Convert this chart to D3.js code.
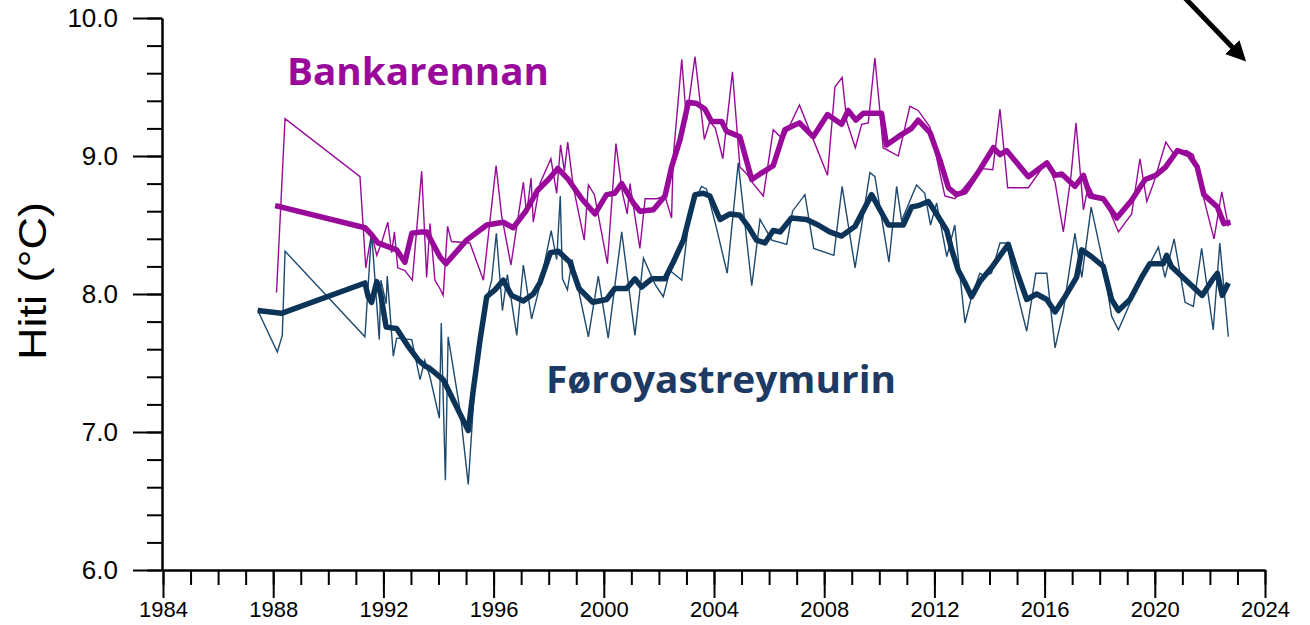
<!DOCTYPE html>
<html>
<head>
<meta charset="utf-8">
<script src="https://cdn.jsdelivr.net/npm/d3@7"></script>
<style>
  body { margin: 0; background: #fff; }
  svg { display: block; }
  .axis text { font-family: "Liberation Sans", Arial, sans-serif; fill: #000; }
  .axis path, .axis line { stroke: #000; stroke-width: 2; }
</style>
</head>
<body>
<svg id="chart" width="1310" height="625"></svg>
<script>
// quarterly values (thin) and running mean (thick), [year, degC]
var bankRaw = [[1988.12,8.01],[1988.43,9.27],[1991.15,8.85],[1991.36,8.19],[1991.57,8.44],[1991.76,8.28],[1991.93,8.37],[1992.16,8.52],[1992.3,8.30],[1992.4,8.45],[1992.52,8.19],[1992.78,8.17],[1993.05,8.10],[1993.39,8.89],[1993.57,8.12],[1993.69,8.51],[1993.87,8.10],[1994.05,8.04],[1994.17,7.99],[1994.33,8.49],[1994.47,8.38],[1995.14,8.37],[1995.63,8.10],[1996.09,8.93],[1996.29,8.57],[1996.63,8.21],[1997.08,8.81],[1997.2,8.58],[1997.36,8.84],[1997.44,8.52],[1997.68,8.80],[1998.08,8.98],[1998.29,8.73],[1998.43,9.08],[1998.57,8.89],[1998.69,9.10],[1998.89,8.78],[1999.29,8.39],[1999.44,8.79],[1999.66,8.72],[2000.13,8.22],[2000.44,9.09],[2000.68,8.73],[2000.85,8.58],[2000.95,8.80],[2001.31,8.33],[2001.5,8.69],[2001.92,8.69],[2002.22,8.71],[2002.46,8.55],[2002.52,8.99],[2002.83,9.70],[2003.0,9.26],[2003.31,9.72],[2003.65,9.12],[2003.85,9.25],[2004.05,9.20],[2004.32,8.98],[2004.67,9.61],[2004.94,8.92],[2005.19,8.87],[2005.42,8.80],[2005.79,8.71],[2006.15,9.19],[2006.51,9.12],[2007.1,9.37],[2007.36,9.24],[2008.12,8.86],[2008.39,9.50],[2008.65,9.57],[2008.82,9.25],[2009.13,9.06],[2009.36,9.23],[2009.6,9.24],[2009.84,9.71],[2010.02,9.33],[2010.14,9.06],[2010.69,9.00],[2011.11,9.36],[2011.41,9.33],[2011.84,9.21],[2012.38,8.71],[2012.74,8.69],[2013.11,8.78],[2013.65,8.91],[2014.12,8.90],[2014.38,9.34],[2014.66,8.77],[2015.41,8.77],[2016.08,8.96],[2016.38,8.81],[2016.68,8.45],[2016.96,8.86],[2017.14,9.24],[2017.41,8.61],[2017.59,8.79],[2017.77,8.72],[2018.17,8.69],[2018.68,8.45],[2019.16,8.58],[2019.46,8.98],[2019.71,8.67],[2019.95,8.80],[2020.4,9.10],[2020.67,9.02],[2021.15,9.04],[2021.4,9.01],[2021.88,8.61],[2022.15,8.40],[2022.43,8.74],[2022.67,8.49]];

var bankMean = [[1988.07,8.64],[1988.3,8.63],[1991.33,8.48],[1991.57,8.43],[1991.8,8.37],[1992.48,8.32],[1992.78,8.23],[1993.03,8.44],[1993.39,8.45],[1993.57,8.45],[1994.05,8.27],[1994.27,8.22],[1995.02,8.39],[1995.75,8.50],[1996.35,8.52],[1996.71,8.48],[1997.17,8.60],[1997.59,8.75],[1997.99,8.83],[1998.33,8.91],[1998.71,8.83],[1999.2,8.69],[1999.68,8.58],[2000.1,8.72],[2000.4,8.73],[2000.65,8.80],[2001.07,8.66],[2001.31,8.60],[2001.8,8.61],[2002.22,8.71],[2002.46,8.92],[2002.77,9.12],[2003.07,9.39],[2003.37,9.38],[2003.67,9.34],[2003.91,9.25],[2004.28,9.25],[2004.45,9.18],[2004.94,9.14],[2005.37,8.83],[2005.67,8.87],[2006.15,8.93],[2006.57,9.19],[2007.1,9.24],[2007.6,9.14],[2008.12,9.30],[2008.63,9.23],[2008.87,9.33],[2009.15,9.26],[2009.42,9.31],[2010.08,9.31],[2010.26,9.08],[2010.69,9.14],[2011.17,9.20],[2011.41,9.26],[2011.84,9.17],[2012.2,8.97],[2012.51,8.77],[2012.8,8.72],[2013.11,8.74],[2013.65,8.90],[2014.14,9.06],[2014.38,9.01],[2014.62,9.04],[2015.41,8.85],[2016.08,8.95],[2016.38,8.86],[2016.62,8.87],[2017.1,8.78],[2017.41,8.86],[2017.65,8.71],[2018.13,8.69],[2018.62,8.55],[2019.16,8.68],[2019.65,8.83],[2020.03,8.86],[2020.39,8.92],[2020.82,9.04],[2021.24,9.01],[2021.54,8.92],[2021.78,8.72],[2022.27,8.63],[2022.51,8.51],[2022.75,8.52]];

var faroeRaw = [[1987.44,7.88],[1988.15,7.58],[1988.33,7.70],[1988.43,8.31],[1991.33,7.69],[1991.57,8.45],[1991.85,7.67],[1991.91,8.10],[1992.1,7.93],[1992.14,8.13],[1992.36,7.55],[1992.48,7.68],[1993.03,7.67],[1993.33,7.38],[1993.5,7.52],[1993.69,7.40],[1994.03,7.10],[1994.1,7.79],[1994.25,6.65],[1994.35,7.69],[1994.78,7.16],[1995.08,6.62],[1995.38,7.55],[1995.69,7.91],[1995.93,8.10],[1996.1,8.44],[1996.32,7.88],[1996.5,8.14],[1996.84,7.70],[1997.08,8.21],[1997.38,7.82],[1997.68,8.06],[1998.09,8.46],[1998.29,8.25],[1998.42,8.71],[1998.5,8.11],[1998.68,8.03],[1998.85,8.25],[1999.44,7.69],[1999.8,8.13],[2000.16,7.68],[2000.65,8.45],[2001.13,7.70],[2001.44,8.26],[2001.86,8.07],[2002.16,7.98],[2002.4,8.17],[2002.83,8.10],[2003.13,8.61],[2003.55,8.78],[2003.73,8.76],[2004.1,8.47],[2004.48,8.15],[2004.88,8.95],[2005.37,8.06],[2005.67,8.54],[2006.1,8.39],[2006.64,8.36],[2006.85,8.60],[2007.3,8.72],[2007.62,8.33],[2008.35,8.28],[2008.65,8.78],[2009.12,8.19],[2009.66,8.88],[2009.84,8.85],[2010.35,8.23],[2010.63,8.78],[2010.81,8.53],[2011.35,8.79],[2011.65,8.73],[2011.86,8.50],[2012.08,8.66],[2012.45,8.27],[2012.74,8.50],[2013.11,7.79],[2013.35,7.98],[2013.65,8.15],[2013.83,8.13],[2014.07,8.15],[2014.38,8.37],[2014.62,8.37],[2014.98,8.03],[2015.35,7.73],[2015.68,8.15],[2016.08,8.15],[2016.38,7.61],[2016.68,7.88],[2017.1,8.44],[2017.35,8.12],[2017.69,8.63],[2018.13,8.22],[2018.43,7.84],[2018.68,7.74],[2019.16,7.96],[2019.52,8.12],[2019.77,8.20],[2020.13,8.34],[2020.37,8.12],[2020.7,8.40],[2021.1,7.94],[2021.4,7.91],[2021.7,8.33],[2022.12,7.74],[2022.36,8.37],[2022.67,7.69]];

var faroeMean = [[1987.44,7.88],[1988.3,7.86],[1991.33,8.08],[1991.45,7.98],[1991.57,7.94],[1991.76,8.09],[1991.9,8.00],[1992.1,7.76],[1992.48,7.75],[1992.9,7.62],[1993.27,7.52],[1993.5,7.48],[1993.69,7.46],[1994.17,7.38],[1994.54,7.23],[1995.08,7.01],[1995.26,7.30],[1995.51,7.67],[1995.75,7.98],[1996.05,8.03],[1996.35,8.10],[1996.65,7.99],[1997.08,7.95],[1997.44,8.00],[1997.68,8.08],[1998.06,8.30],[1998.35,8.31],[1998.77,8.23],[1999.1,8.04],[1999.6,7.94],[2000.1,7.96],[2000.4,8.04],[2000.83,8.04],[2001.13,8.11],[2001.37,8.05],[2001.74,8.11],[2002.22,8.11],[2002.52,8.23],[2002.89,8.39],[2003.31,8.72],[2003.61,8.73],[2003.85,8.71],[2004.22,8.54],[2004.58,8.58],[2004.94,8.57],[2005.24,8.49],[2005.54,8.39],[2005.85,8.37],[2006.15,8.46],[2006.4,8.45],[2006.81,8.55],[2007.36,8.54],[2007.78,8.50],[2008.2,8.45],[2008.63,8.42],[2009.12,8.49],[2009.72,8.72],[2010.33,8.50],[2010.87,8.50],[2011.17,8.63],[2011.41,8.64],[2011.78,8.67],[2012.08,8.58],[2012.45,8.46],[2012.63,8.32],[2012.87,8.17],[2013.11,8.08],[2013.35,7.98],[2013.65,8.09],[2014.07,8.19],[2014.68,8.36],[2014.98,8.17],[2015.35,7.96],[2015.71,8.00],[2016.08,7.96],[2016.38,7.87],[2016.74,7.98],[2017.16,8.12],[2017.35,8.32],[2017.71,8.27],[2018.13,8.20],[2018.43,7.96],[2018.68,7.88],[2019.1,7.96],[2019.52,8.12],[2019.82,8.22],[2020.31,8.22],[2020.43,8.28],[2020.6,8.20],[2021.24,8.08],[2021.72,7.99],[2022.08,8.10],[2022.27,8.15],[2022.45,7.99],[2022.67,8.08]];

var yMajor = [6, 7, 8, 9, 10];
var xMajor = [1984, 1988, 1992, 1996, 2000, 2004, 2008, 2012, 2016, 2020, 2024];

var purple = "#990a9b";
var navy = "#0c3459";

var svg = d3.select("#chart");
var x = d3.scaleLinear().domain([1984, 2024]).range([163, 1265]);
var y = d3.scaleLinear().domain([6, 10]).range([570, 18]);

// minor ticks first, majors over them
svg.append("g").attr("class", "axis").attr("transform", "translate(162,0)")
  .call(d3.axisLeft(y).tickValues(d3.range(6, 10.01, 0.2)).tickSize(15).tickSizeOuter(0).tickFormat(""));
var ya = svg.append("g").attr("class", "axis").attr("transform", "translate(162,0)")
  .call(d3.axisLeft(y).tickValues(yMajor).tickSize(29).tickSizeOuter(0).tickFormat(d3.format(".1f")));
ya.selectAll("text").attr("x", -44).style("font-size", "26px");

svg.append("g").attr("class", "axis").attr("transform", "translate(0,570)")
  .call(d3.axisBottom(x).tickValues(d3.range(1984, 2025, 1)).tickSize(15).tickSizeOuter(0).tickFormat(""));
var xa = svg.append("g").attr("class", "axis").attr("transform", "translate(0,570)")
  .call(d3.axisBottom(x).tickValues(xMajor).tickSize(28).tickSizeOuter(0).tickFormat(d3.format("d")));
xa.selectAll("text").attr("y", 31).style("font-size", "22px");

svg.append("text")
  .attr("transform", "translate(46,281) rotate(-90)")
  .attr("text-anchor", "middle")
  .attr("textLength", 158).attr("lengthAdjust", "spacingAndGlyphs")
  .style("font-family", "Liberation Sans, Arial, sans-serif")
  .style("font-size", "38px")
  .text("Hiti (°C)");

var line = d3.line()
  .x(function(d) { return x(d[0]); })
  .y(function(d) { return y(d[1]); });

svg.append("path").datum(bankRaw).attr("d", line)
  .attr("fill", "none").attr("stroke", purple).attr("stroke-width", 1.4);
svg.append("path").datum(faroeRaw).attr("d", line)
  .attr("fill", "none").attr("stroke", "#1d4a6e").attr("stroke-width", 1.4);
svg.append("path").datum(bankMean).attr("d", line)
  .attr("fill", "none").attr("stroke", purple).attr("stroke-width", 5.5).attr("stroke-linejoin", "round");
svg.append("path").datum(faroeMean).attr("d", line)
  .attr("fill", "none").attr("stroke", navy).attr("stroke-width", 5.5).attr("stroke-linejoin", "round");

svg.append("text").attr("x", 287).attr("y", 85)
  .attr("textLength", 262).attr("lengthAdjust", "spacingAndGlyphs")
  .style("font-family", "Open Sans, sans-serif").style("font-weight", "bold")
  .style("font-size", "38px").attr("fill", purple)
  .text("Bankarennan");
svg.append("text").attr("x", 546).attr("y", 393)
  .attr("textLength", 350).attr("lengthAdjust", "spacingAndGlyphs")
  .style("font-family", "Open Sans, sans-serif").style("font-weight", "bold")
  .style("font-size", "38px").attr("fill", "#1c3a64")
  .text("Føroyastreymurin");

// arrow in the top right corner
svg.append("defs").append("marker")
  .attr("id", "head").attr("viewBox", "0 0 10 10")
  .attr("refX", 2).attr("refY", 5)
  .attr("markerWidth", 4).attr("markerHeight", 4)
  .attr("orient", "auto")
  .append("path").attr("d", "M0,0 L10,5 L0,10 z").attr("fill", "#000");
svg.append("line")
  .attr("x1", 1185).attr("y1", -2).attr("x2", 1235).attr("y2", 50)
  .attr("stroke", "#000").attr("stroke-width", 5)
  .attr("marker-end", "url(#head)");
</script>
</body>
</html>
